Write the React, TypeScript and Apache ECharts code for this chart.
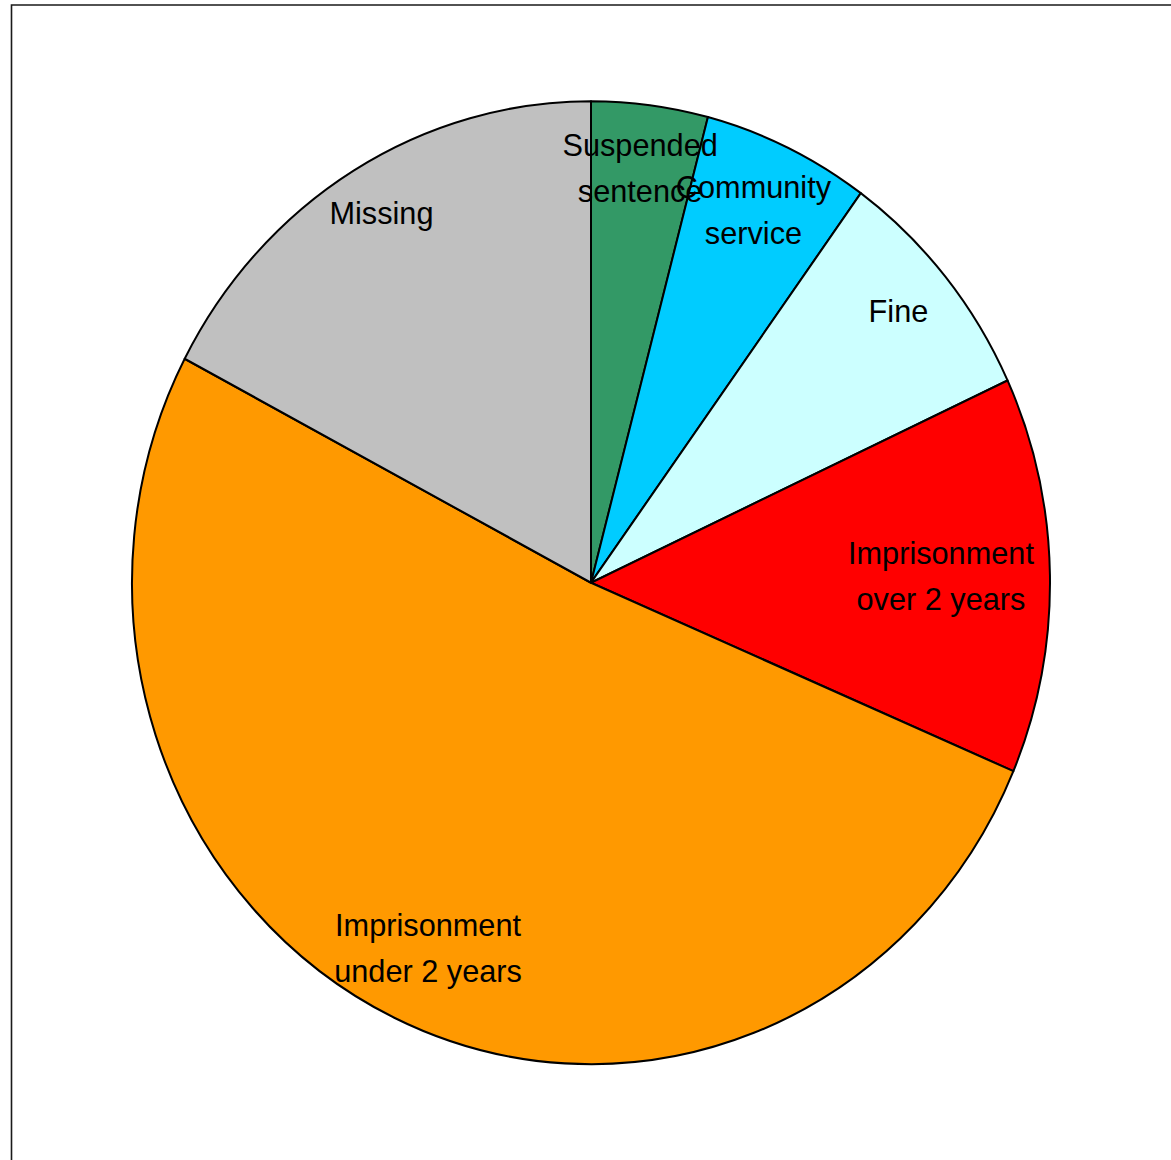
import React, { useEffect, useRef } from "react";
import * as echarts from "echarts";

const categories = [
  "Suspended\nsentence",
  "Community\nservice",
  "Fine",
  "Imprisonment\nover 2 years",
  "Imprisonment\nunder 2 years",
  "Missing",
];
const values = [4.1, 5.9, 8.1, 13.3, 51.3, 17.3];
const colors = ["#339966", "#00CCFF", "#CCFFFF", "#FF0000", "#FF9900", "#C0C0C0"];
// label placement: radial distance of each label, and horizontal nudges (padding: top, right, bottom, left)
const labelRadii = [395, 390, 404, 395, 383, 408];
const labelPads = [
  [0, 4, 0, 0],
  [0, 12, 0, 0],
  [0, 14, 0, 0],
  [0, 96, 0, 0],
  [0, 0, 0, 5],
  [0, 0, 0, 6],
];

const CX = 591;
const CY = 582.7;
const R = 459;
const SY = 1.049;

export default function App() {
  const ref = useRef<HTMLDivElement>(null);
  useEffect(() => {
    if (!ref.current) return;
    const chart = echarts.init(ref.current, undefined, { renderer: "svg" });
    const pieData = categories.map((name, i) => ({
      name,
      value: values[i],
      itemStyle: { color: colors[i] },
    }));
    const groups = Array.from(new Set(labelRadii));
    const labelSeries = groups.map((r) => ({
      type: "pie",
      center: [CX, CY],
      radius: [r - 60, r + 60],
      startAngle: 90,
      clockwise: true,
      silent: true,
      avoidLabelOverlap: false,
      minShowLabelAngle: 0,
      labelLayout: { hideOverlap: false },
      itemStyle: { color: "transparent", borderWidth: 0 },
      label: {
        show: true,
        position: "inside",
        color: "#000000",
        fontFamily: "'Liberation Sans', Arial, sans-serif",
        fontSize: 30.7,
        lineHeight: 44,
        align: "center",
        overflow: "none",
        formatter: "{b}",
      },
      labelLine: { show: false },
      data: categories.map((name, i) => ({
        name,
        value: values[i],
        label: { show: labelRadii[i] === r, padding: labelPads[i] },
      })),
      z: 3,
    }));
    chart.setOption({
      animation: false,
      backgroundColor: "#ffffff",
      graphic: [
        {
          type: "rect",
          shape: { x: 11.5, y: CY + (5 - CY) / SY, width: 1400, height: 1400 },
          style: { fill: "none", stroke: "#1a1a1a", lineWidth: 1.6 },
          z: 0,
        },
      ],
      series: [
        {
          type: "pie",
          center: [CX, CY],
          radius: [0, R],
          startAngle: 90,
          clockwise: true,
          silent: true,
          avoidLabelOverlap: false,
          label: { show: false },
          labelLine: { show: false },
          itemStyle: { borderColor: "#000000", borderWidth: 2 },
          data: pieData,
          z: 2,
        },
        ...labelSeries,
      ],
    });
    return () => chart.dispose();
  }, []);
  return (
    <div
      style={{
        position: "fixed",
        left: 0,
        top: 0,
        width: 1171,
        height: 1160,
        overflow: "hidden",
        background: "#ffffff",
      }}
    >
      <div
        ref={ref}
        style={{
          width: 1171,
          height: 1160,
          transform: `scaleY(${SY})`,
          transformOrigin: `${CX}px ${CY}px`,
        }}
      />
    </div>
  );
}
